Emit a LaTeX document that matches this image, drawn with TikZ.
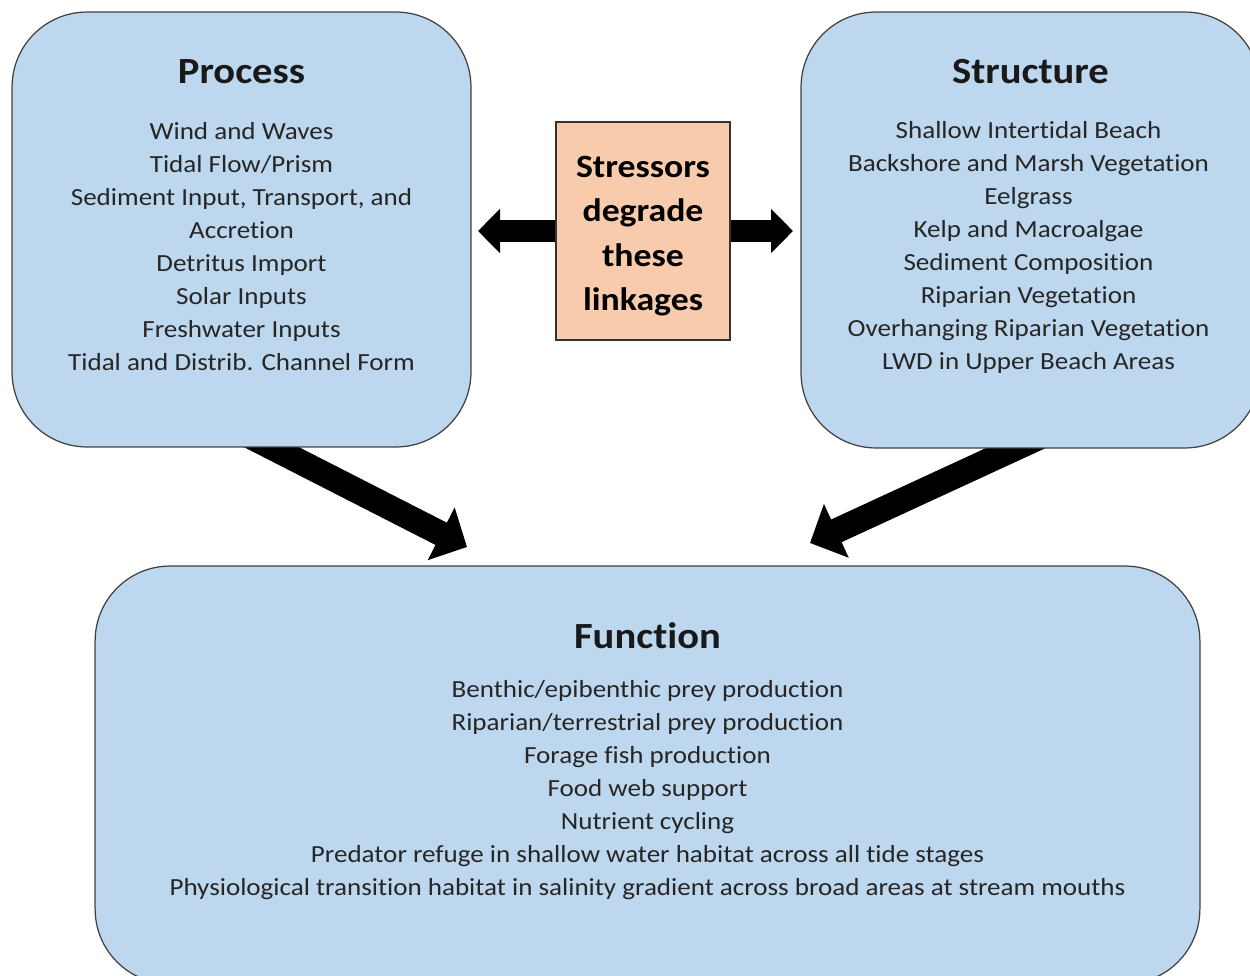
\documentclass[tikz,border=0pt]{standalone}
\usepackage{fontspec}
\setmainfont{Carlito}[FakeStretch=1.1, Ligatures=NoCommon]
\usetikzlibrary{arrows.meta}
\usetikzlibrary{backgrounds}
\definecolor{boxblue}{HTML}{BDD7EE}
\definecolor{peach}{HTML}{F8CBAD}
\definecolor{txtgray}{HTML}{262626}
\tikzset{panel/.style={rectangle, rounded corners=1.5cm, draw=black!75, line width=0.7pt, fill=boxblue, inner sep=0pt}}
\tikzset{head/.style={font=\fontsize{21}{25}\selectfont\bfseries, text=black!90}}
\tikzset{items/.style={align=center, font=\fontsize{14}{18.8}\selectfont, text=txtgray}}
\tikzset{fat/.style={line width=0.44cm, -{Triangle[length=0.44cm,width=0.86cm]}}}
\tikzset{bigfat/.style={line width=0.5cm, -{Triangle[length=0.58cm,width=1.15cm]}}}

\begin{document}
\begin{tikzpicture}[x=0.02cm, y=-0.02cm]

    \clip (0,0) rectangle (1250,976);

    \node[panel, minimum width=9.18cm, minimum height=8.7cm] (proc) at (241.5,229.5) {};
    \node[panel, minimum width=9.18cm, minimum height=8.72cm] (strc) at (1030.5,230) {};
    \node[panel, minimum width=22.1cm, minimum height=8.36cm] (func) at (647.5,775) {};

    \node[head] (proctitle) at ([yshift=-1.2cm]proc.north) {Process};
    \node[items] (procitems) at ([yshift=-4.7cm]proc.north) {Wind and Waves\\ Tidal Flow/Prism\\ Sediment Input, Transport, and\\ Accretion\\ Detritus Import\\ Solar Inputs\\ Freshwater Inputs\\ Tidal and Distrib. Channel Form};

    \node[head] (strctitle) at ([yshift=-1.2cm]strc.north) {Structure};
    \node[items] (strcitems) at ([yshift=-4.72cm,xshift=-0.04cm]strc.north) {Shallow Intertidal Beach\\ Backshore and Marsh Vegetation\\ Eelgrass\\ Kelp and Macroalgae\\ Sediment Composition\\ Riparian Vegetation\\ Overhanging Riparian Vegetation\\ LWD in Upper Beach Areas};

    \node[head] (functitle) at ([yshift=-1.4cm]func.north) {Function};
    \node[items] (funcitems) at ([yshift=-4.5cm]func.north) {Benthic/epibenthic prey production\\ Riparian/terrestrial prey production\\ Forage fish production\\ Food web support\\ Nutrient cycling\\ Predator refuge in shallow water habitat across all tide stages\\ Physiological transition habitat in salinity gradient across broad areas at stream mouths};

    \node[rectangle, draw=black!80, line width=0.7pt, fill=peach, minimum width=3.48cm, minimum height=4.36cm] (stress) at (643,231) {};
    \node[align=center, font=\fontsize{18.5}{25.2}\selectfont\bfseries] (stresstext) at ([yshift=-0.1cm]stress.center) {Stressors\\ degrade\\ these\\ linkages};

    \coordinate (tipW) at (478,231);
    \coordinate (tipE) at (793,231);
    \coordinate (tipL) at (467,547);
    \coordinate (tipR) at (810,543);

    \draw[fat] (stress.west) -- (tipW);
    \draw[fat] (stress.east) -- (tipE);

    \begin{pgfonlayer}{background}
      \draw[bigfat] ([xshift=-0.56cm,yshift=0.6cm]proc.south) -- (tipL);
      \draw[bigfat] ([xshift=0.92cm,yshift=0.57cm]strc.south) -- (tipR);
    \end{pgfonlayer}

\end{tikzpicture}
\end{document}
